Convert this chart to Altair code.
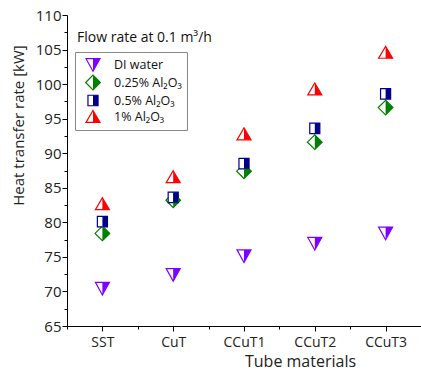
import json
import altair as alt
import pandas as pd

# ---- data ----
categories = ["SST", "CuT", "CCuT1", "CCuT2", "CCuT3"]
series = ["DI water", "0.25% Al₂O₃", "0.5% Al₂O₃", "1% Al₂O₃"]
di_water = [70.4, 72.4, 75.1, 76.9, 78.4]
al2o3_025 = [78.4, 83.2, 87.4, 91.6, 96.6]
al2o3_05 = [80.1, 83.6, 88.5, 93.6, 98.6]
al2o3_1 = [82.7, 86.6, 92.8, 99.3, 104.6]
y_ticks = [65, 67.5, 70, 72.5, 75, 77.5, 80, 82.5, 85, 87.5, 90, 92.5, 95, 97.5,
           100, 102.5, 105, 107.5, 110]
x_ticks = [0.5, 1, 1.5, 2, 2.5, 3, 3.5, 4, 4.5, 5, 5.5]
title_text = "Flow rate at 0.1 m³/h"

# ---- styles ----
colors = ["#8000ff", "#008000", "#00008b", "#ff0000"]
outline_paths = [
    "M-1,-0.9L1,-0.9L0,0.9Z",
    "M0,-1.05L1.05,0L0,1.05L-1.05,0Z",
    "M-0.72,-0.75L0.72,-0.75L0.72,0.75L-0.72,0.75Z",
    "M0,-0.85L1,0.85L-1,0.85Z",
]
half_paths = [
    "M0,-0.9L1,-0.9L0,0.9Z",
    "M0,-1.05L1.05,0L0,1.05Z",
    "M0,-0.75L0.72,-0.75L0.72,0.75L0,0.75Z",
    "M0,-0.85L1,0.85L0,0.85Z",
]
FONT = "Open Sans"
SYM = 196

# second key for the half-filled overlay (kept distinct so its legend is separate)
series_b = ["fill · " + s for s in series]

rows = []
for name, name_b, vals in zip(series, series_b, [di_water, al2o3_025, al2o3_05, al2o3_1]):
    for i, (cat, v) in enumerate(zip(categories, vals)):
        rows.append({"cat": cat, "idx": i + 1, "value": v, "series": name, "series_b": name_b})
df = pd.DataFrame(rows)

cat_js = json.dumps(categories)
x_enc = alt.X(
    "idx:Q",
    scale=alt.Scale(domain=[0.5, 5.5], nice=False, zero=False),
    axis=alt.Axis(
        values=x_ticks,
        labelExpr=f"datum.value % 1 == 0 ? {cat_js}[datum.value - 1] : ''",
        tickSize={"condition": {"test": "datum.value % 1 == 0", "value": 5}, "value": 3},
        labelPadding=4, labelFont=FONT, labelFontSize=14, labelColor="#222",
        labelOverlap=False, labelFlush=False, grid=False,
        domainColor="black", tickColor="black",
        title="Tube materials", titleFont=FONT, titleFontSize=16,
        titleFontWeight="normal", titleColor="#222",
        titleX=233, titleY=35, titleAlign="center", titleBaseline="middle",
    ),
)
y_enc = alt.Y(
    "value:Q",
    scale=alt.Scale(domain=[65, 110], nice=False, zero=False),
    axis=alt.Axis(
        values=y_ticks,
        labelExpr="datum.value % 5 == 0 ? datum.value : ''",
        tickSize={"condition": {"test": "datum.value % 5 == 0", "value": 5}, "value": 3},
        labelPadding=1, labelFont=FONT, labelFontSize=15, labelColor="#222",
        labelOverlap=False, grid=False,
        domainColor="black", tickColor="black",
        title="Heat transfer rate [kW]", titleFont=FONT, titleFontSize=15,
        titleFontWeight="normal", titleColor="#222",
        titleX=-49, titleY=110, titleAlign="center", titleBaseline="middle",
        titleAngle=-90,
    ),
)

common_leg = dict(
    title=None, orient="none", legendX=8, legendY=37, direction="vertical",
    padding=5, symbolOffset=5, labelOffset=13, rowPadding=-1.5,
    labelFont=FONT, labelFontSize=12.5, symbolSize=SYM, symbolStrokeWidth=1.2,
)
leg_a = alt.Legend(**common_leg, labelColor="#111", strokeColor="#888",
                   fillColor="white", symbolFillColor="white", zindex=1)
leg_b = alt.Legend(**common_leg, labelExpr="''", symbolStrokeColor="transparent",
                   zindex=2)

base = alt.Chart(df)
outline_layer = base.mark_point(filled=True, fill="white", size=SYM,
                                strokeWidth=1.2, opacity=1).encode(
    x=x_enc, y=y_enc,
    shape=alt.Shape("series:N", scale=alt.Scale(domain=series, range=outline_paths),
                    legend=leg_a),
    stroke=alt.Stroke("series:N", scale=alt.Scale(domain=series, range=colors),
                      legend=leg_a),
)
half_layer = base.mark_point(filled=True, size=SYM, strokeWidth=0, opacity=1).encode(
    x=x_enc, y=y_enc,
    shape=alt.Shape("series_b:N", scale=alt.Scale(domain=series_b, range=half_paths),
                    legend=leg_b),
    fill=alt.Fill("series_b:N", scale=alt.Scale(domain=series_b, range=colors),
                  legend=leg_b),
)
title_layer = alt.Chart(pd.DataFrame({"t": [title_text]})).mark_text(
    align="left", baseline="alphabetic", font=FONT, fontSize=14, color="#111"
).encode(x=alt.value(10), y=alt.value(27), text="t:N")

chart = (
    alt.layer(outline_layer, half_layer, title_layer)
    .resolve_scale(shape="independent", stroke="independent", fill="independent")
    .resolve_legend(shape="independent", stroke="independent", fill="independent")
    .properties(
        width=354, height=311,
        autosize=alt.AutoSizeParams(type="none"),
        padding={"left": 67, "top": 15, "right": 0, "bottom": 44},
        background="white",
    )
    .configure_view(stroke=None)
)
chart.save("out.html", embed_options={"renderer": "svg", "actions": False})
